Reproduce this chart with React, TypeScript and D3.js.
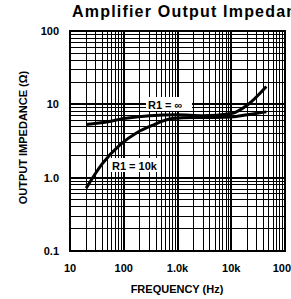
import * as d3 from "d3";
import React from "react";

const xTicks = [10, 100, 1000, 10000, 100000];
const xTickLabels = ["10", "100", "1.0k", "10k", "100k"];
const yTicks = [0.1, 1, 10, 100];
const yTickLabels = ["0.1", "1.0", "10", "100"];

// R1 = infinity
const infFreq = [20, 50, 100, 300, 1000, 3000, 10000, 20000, 45000];
const infZ = [5.3, 5.8, 6.4, 7.0, 7.2, 7.0, 7.5, 9.8, 17.5];

// R1 = 10k
const r10kFreq = [20, 40, 85, 175, 350, 800, 2000, 5000, 10000, 20000, 45000];
const r10kZ = [0.72, 1.55, 2.8, 4.1, 5.2, 6.4, 6.6, 6.6, 6.7, 7.2, 7.9];

const W = 291;
const H = 299;
const m = { left: 70, right: 285, top: 31, bottom: 251 };

export default function App() {
  const x = d3.scaleLog().domain([10, 100000]).range([m.left, m.right]);
  const y = d3.scaleLog().domain([0.1, 100]).range([m.bottom, m.top]);

  const minorX: number[] = [];
  for (let d = 10; d < 100000; d *= 10) for (let k = 2; k <= 9; k++) minorX.push(d * k);
  const minorY: number[] = [];
  for (let d = 0.1; d < 99; d *= 10) for (let k = 2; k <= 9; k++) minorY.push(d * k);

  const line = d3
    .line<[number, number]>()
    .x((d) => x(d[0]))
    .y((d) => y(d[1]))
    .curve(d3.curveMonotoneX);

  const infPts = infFreq.map((f, i) => [f, infZ[i]] as [number, number]);
  const r10kPts = r10kFreq.map((f, i) => [f, r10kZ[i]] as [number, number]);

  const font = "'Liberation Sans', Arial, Helvetica, sans-serif";

  return (
    <div style={{ position: "fixed", left: 0, top: 0 }}>
      <svg width={W} height={H} style={{ display: "block", background: "#fff" }} fontFamily={font}>
        <text x={72} y={17} fontSize={16} fontWeight="bold" letterSpacing={1.2} fill="#000">
          Amplifier Output Impedance
        </text>

        {/* grid */}
        <g stroke="#000" shapeRendering="crispEdges">
          {minorX.map((f) => (
            <line key={"mx" + f} x1={x(f)} x2={x(f)} y1={m.top} y2={m.bottom} strokeWidth={1} />
          ))}
          {minorY.map((v) => (
            <line key={"my" + v} x1={m.left} x2={m.right} y1={y(v)} y2={y(v)} strokeWidth={1} />
          ))}
          {xTicks.map((f) => (
            <line key={"Mx" + f} x1={x(f)} x2={x(f)} y1={m.top} y2={m.bottom} strokeWidth={2} />
          ))}
          {yTicks.map((v) => (
            <line key={"My" + v} x1={m.left} x2={m.right} y1={y(v)} y2={y(v)} strokeWidth={2} />
          ))}
          <rect x={m.left} y={m.top} width={m.right - m.left} height={m.bottom - m.top} fill="none" strokeWidth={2} />
        </g>

        {/* curves */}
        <path d={line(infPts) || ""} fill="none" stroke="#000" strokeWidth={3} />
        <path d={line(r10kPts) || ""} fill="none" stroke="#000" strokeWidth={3} />

        {/* curve labels */}
        <rect x={146} y={97} width={46} height={14} fill="#fff" />
        <text x={148} y={109} fontSize={11} fontWeight="bold">R1 = ∞</text>
        <rect x={109} y={158} width={50} height={14} fill="#fff" />
        <text x={112} y={170} fontSize={11} fontWeight="bold">R1 = 10k</text>

        {/* tick labels */}
        {yTicks.map((v, i) => (
          <text key={"yl" + v} x={59} y={y(v) + 4} textAnchor="end" fontSize={11} fontWeight="bold">
            {yTickLabels[i]}
          </text>
        ))}
        {xTicks.map((f, i) => (
          <text key={"xl" + f} x={x(f)} y={272} textAnchor="middle" fontSize={11} fontWeight="bold">
            {xTickLabels[i]}
          </text>
        ))}

        <text x={177} y={293} textAnchor="middle" fontSize={11} fontWeight="bold">FREQUENCY (Hz)</text>
        <text
          transform={`translate(27,${(70 + 205) / 2}) rotate(-90)`}
          textAnchor="middle"
          fontSize={11}
          fontWeight="bold"
        >
          OUTPUT IMPEDANCE (Ω)
        </text>
      </svg>
    </div>
  );
}
